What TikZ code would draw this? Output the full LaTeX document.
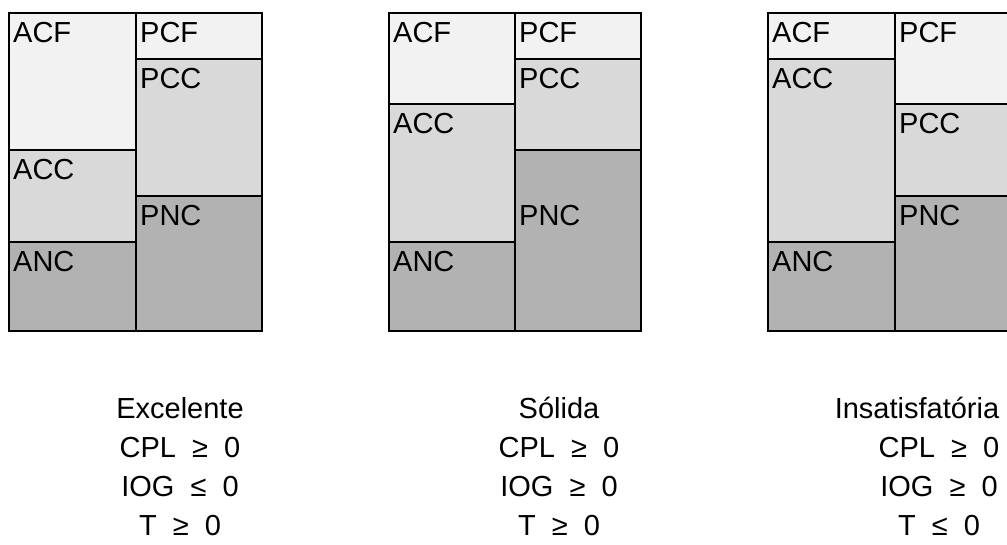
\documentclass[tikz,border=0pt]{standalone}
\usepackage{fontspec}
\setmainfont{Liberation Sans}
\definecolor{cfix}{HTML}{F2F2F2}
\definecolor{ccur}{HTML}{D9D9D9}
\definecolor{cnon}{HTML}{B2B2B2}
\begin{document}
\begin{tikzpicture}[x=1pt,y=-1pt,
  cell/.style={draw=black,line width=1.5pt},
  fixc/.style={cell,fill=cfix},
  curc/.style={cell,fill=ccur},
  nonc/.style={cell,fill=cnon},
  lab/.style={anchor=base west,inner sep=0pt,font=\fontsize{29}{35}\selectfont},
  cond/.style={anchor=base,inner sep=0pt,font=\fontsize{29}{35}\selectfont}]
\useasboundingbox (0,0) rectangle (1007,544);
\clip (0,0) rectangle (1007,544);
% ---------- Panel 1: Excelente ----------
\path[fixc] (9,13) rectangle (136,150);
\path[curc] (9,150) rectangle (136,242);
\path[nonc] (9,242) rectangle (136,331);
\path[fixc] (136,13) rectangle (262,59);
\path[curc] (136,59) rectangle (262,196);
\path[nonc] (136,196) rectangle (262,331);
\node[lab] (a1acf) at (13,42) {ACF};
\node[lab] (a1acc) at (13,179) {ACC};
\node[lab] (a1anc) at (13,271) {ANC};
\node[lab] (a1pcf) at (140,42) {PCF};
\node[lab] (a1pcc) at (140,88) {PCC};
\node[lab] (a1pnc) at (140,225) {PNC};
\node[cond] (t1a) at (180,418) {Excelente};
\node[cond] (t1b) at (180,457) {CPL\ \ ≥\ \ 0};
\node[cond] (t1c) at (180,496) {IOG\ \ ≤\ \ 0};
\node[cond] (t1d) at (180,535) {T\ \ ≥\ \ 0};
% ---------- Panel 2: Sólida ----------
\path[fixc] (389,13) rectangle (515,104);
\path[curc] (389,104) rectangle (515,242);
\path[nonc] (389,242) rectangle (515,331);
\path[fixc] (515,13) rectangle (641,59);
\path[curc] (515,59) rectangle (641,150);
\path[nonc] (515,150) rectangle (641,331);
\node[lab] (a2acf) at (393,42) {ACF};
\node[lab] (a2acc) at (393,133) {ACC};
\node[lab] (a2anc) at (393,271) {ANC};
\node[lab] (a2pcf) at (519,42) {PCF};
\node[lab] (a2pcc) at (519,88) {PCC};
\node[lab] (a2pnc) at (519,225) {PNC};
\node[cond] (t2a) at (559,418) {Sólida};
\node[cond] (t2b) at (559,457) {CPL\ \ ≥\ \ 0};
\node[cond] (t2c) at (559,496) {IOG\ \ ≥\ \ 0};
\node[cond] (t2d) at (559,535) {T\ \ ≥\ \ 0};
% ---------- Panel 3: Insatisfatória ----------
\path[fixc] (768,13) rectangle (895,59);
\path[curc] (768,59) rectangle (895,242);
\path[nonc] (768,242) rectangle (895,331);
\path[fixc] (895,13) rectangle (1021,104);
\path[curc] (895,104) rectangle (1021,196);
\path[nonc] (895,196) rectangle (1021,331);
\node[lab] (a3acf) at (772,42) {ACF};
\node[lab] (a3acc) at (772,88) {ACC};
\node[lab] (a3anc) at (772,271) {ANC};
\node[lab] (a3pcf) at (899,42) {PCF};
\node[lab] (a3pcc) at (899,133) {PCC};
\node[lab] (a3pnc) at (899,225) {PNC};
\node[cond] (t3a) at (917,418) {Insatisfatória};
\node[cond] (t3b) at (939,457) {CPL\ \ ≥\ \ 0};
\node[cond] (t3c) at (939,496) {IOG\ \ ≥\ \ 0};
\node[cond] (t3d) at (939,535) {T\ \ ≤\ \ 0};
\end{tikzpicture}
\end{document}
